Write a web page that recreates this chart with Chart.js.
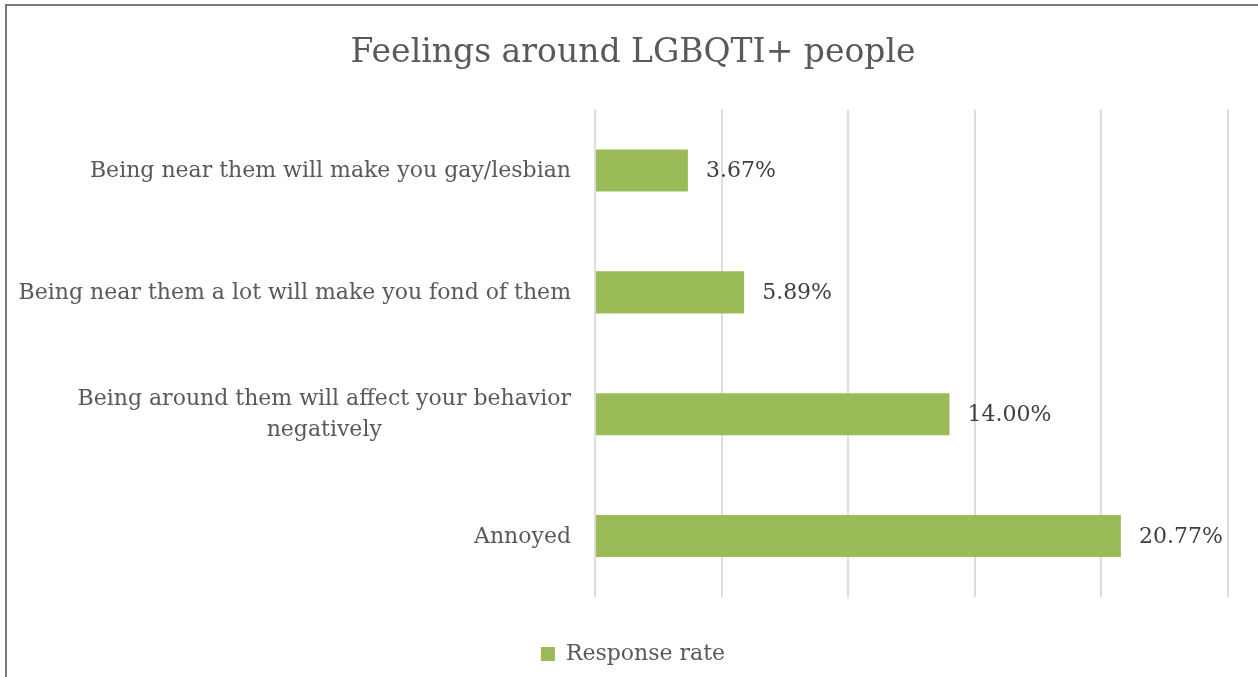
<!DOCTYPE html>
<html><head><meta charset="utf-8">
<script src="https://cdn.jsdelivr.net/npm/chart.js@4.4.1/dist/chart.umd.min.js"></script>
<style>
html,body{margin:0;padding:0;background:#fff;overflow:hidden;}
#wrap{position:relative;width:1258px;height:677px;}
#frame{position:absolute;left:5px;top:4px;width:1300px;height:700px;border-left:2px solid #7a7a7a;border-top:2px solid #7a7a7a;pointer-events:none;}
canvas{display:block;}
</style></head><body>
<div id="wrap"><canvas id="c" width="1258" height="677"></canvas><div id="frame"></div></div>
<script>
const chartTitle = 'Feelings around LGBQTI+ people';
const seriesName = 'Response rate';
const categories = [
  ['Being near them will make you gay/lesbian'],
  ['Being near them a lot will make you fond of them'],
  ['Being around them will affect your behavior', 'negatively'],
  ['Annoyed']
];
const values = [3.67, 5.89, 14.00, 20.77];
const valueLabels = ['3.67%', '5.89%', '14.00%', '20.77%'];
const xTicks = [0, 5, 10, 15, 20, 25];

const FONT = '"DejaVu Serif", "Liberation Serif", serif';
const TEXT = '#595959';

const catLabelPlugin = {
  id: 'catLabels',
  afterDraw(chart) {
    const ctx = chart.ctx, y = chart.scales.y;
    ctx.save();
    ctx.font = '22px ' + FONT;
    ctx.fillStyle = TEXT;
    ctx.textBaseline = 'middle';
    ctx.textAlign = 'center';
    const right = chart.chartArea.left - 24;
    categories.forEach((lines, i) => {
      const w = Math.max(...lines.map(l => ctx.measureText(l).width));
      const cx = right - w / 2;
      const cy = y.getPixelForValue(i);
      const lh = 31;
      lines.forEach((l, j) => ctx.fillText(l, cx, cy + 1 + (j - (lines.length - 1) / 2) * lh));
    });
    ctx.restore();
  }
};

const valueLabelPlugin = {
  id: 'valueLabels',
  afterDatasetsDraw(chart) {
    const ctx = chart.ctx;
    const meta = chart.getDatasetMeta(0);
    ctx.save();
    ctx.font = '22px ' + FONT;
    ctx.fillStyle = '#404040';
    ctx.textBaseline = 'middle';
    ctx.textAlign = 'left';
    meta.data.forEach((bar, i) => {
      ctx.fillText(valueLabels[i], bar.x + 18, bar.y + 1);
    });
    ctx.restore();
  }
};

new Chart(document.getElementById('c'), {
  type: 'bar',
  data: {
    labels: categories.map(c => c.join(' ')),
    datasets: [{
      label: seriesName,
      data: values,
      backgroundColor: '#9BBB59',
      borderWidth: 0,
      categoryPercentage: 1,
      barPercentage: 0.345
    }]
  },
  options: {
    indexAxis: 'y',
    responsive: false,
    animation: false,
    devicePixelRatio: 1,
    layout: { padding: { left: 38, right: 30, top: 24, bottom: 2 } },
    plugins: {
      title: {
        display: true,
        text: chartTitle,
        color: TEXT,
        font: { family: FONT, size: 33, weight: 'normal' },
        padding: { top: 10, bottom: 36 }
      },
      legend: {
        display: true,
        position: 'bottom',
        labels: {
          color: TEXT,
          font: { family: FONT, size: 22 },
          boxWidth: 14,
          boxHeight: 14,
          padding: 10
        }
      },
      tooltip: { enabled: false }
    },
    scales: {
      x: {
        type: 'linear',
        min: 0,
        max: 25,
        afterBuildTicks: s => { s.ticks = xTicks.map(v => ({ value: v })); },
        afterFit: s => { s.height = 36; },
        ticks: { display: false },
        grid: { color: '#dddddd', lineWidth: 2, drawTicks: false },
        border: { display: false }
      },
      y: {
        afterFit: s => { s.width = 557; },
        ticks: { display: false },
        grid: { display: false, drawTicks: false },
        border: { display: false }
      }
    }
  },
  plugins: [catLabelPlugin, valueLabelPlugin]
});
</script>
</body></html>
